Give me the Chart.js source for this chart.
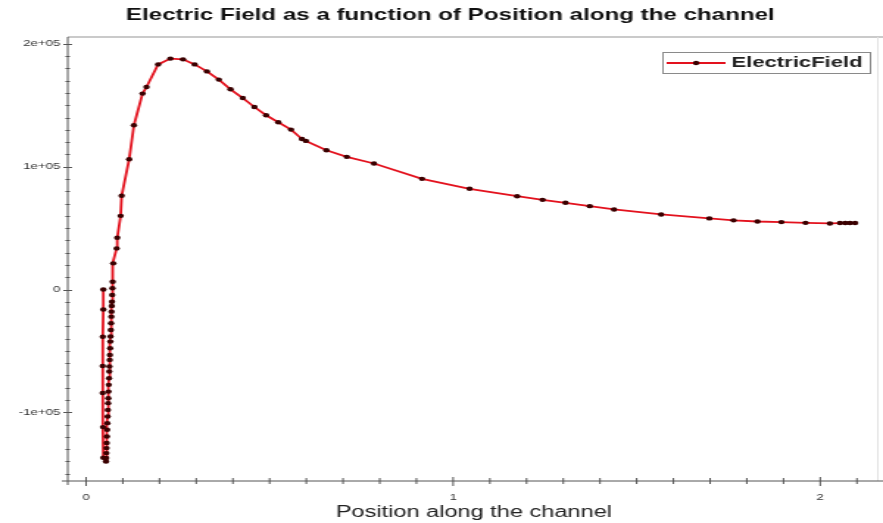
<!DOCTYPE html>
<html>
<head>
<meta charset="utf-8">
<script src="https://cdn.jsdelivr.net/npm/chart.js@4/dist/chart.umd.min.js"></script>
<style>
  html, body { margin: 0; padding: 0; background: #ffffff; overflow: hidden; }
  #plot { display: block; }
</style>
</head>
<body>
<canvas id="plot" width="600" height="523" style="width:883px;height:523px"></canvas>
<script>
// Position along the channel (x) and electric field (y), in drawing order
const positions = [
  0.0470, 0.0470, 0.0455, 0.0453, 0.0453, 0.0462, 0.0470,
  0.0543, 0.0548, 0.0552, 0.0557, 0.0562, 0.0568, 0.0575, 0.0581, 0.0588, 0.0594,
  0.0601, 0.0606, 0.0612, 0.0619, 0.0626, 0.0632, 0.0637, 0.0644, 0.0649, 0.0656,
  0.0662, 0.0667, 0.0674, 0.0681, 0.0688, 0.0693, 0.0699, 0.0704, 0.0711, 0.0718, 0.0725,
  0.0741, 0.0833, 0.0849, 0.0942, 0.0969, 0.1175, 0.1303, 0.1539, 0.1647, 0.1962,
  0.2298, 0.2640, 0.2958, 0.3292, 0.3617, 0.3935, 0.4269, 0.4586, 0.4904, 0.5237,
  0.5582, 0.5881, 0.5989, 0.6548, 0.7102, 0.7843, 0.9153, 1.0448, 1.1742, 1.2437,
  1.3061, 1.3723, 1.4383, 1.5666, 1.6980, 1.7639, 1.8290, 1.8942, 1.9601, 2.0263,
  2.0540, 2.0680, 2.0810, 2.0950
];
const electricField = [
  0, -16300, -38500, -62300, -84300, -112000, -137000,
  -140000, -137200, -133200, -129100, -125000, -119700, -114200, -108800, -103400, -98000,
  -92500, -88500, -83100, -77600, -72200, -66800, -62700, -57300, -53300, -47800,
  -42400, -38300, -32900, -27500, -22100, -18000, -13400, -9900, -4500, 1000, 6300,
  21300, 33500, 42100, 60000, 76300, 106100, 133700, 159500, 164900, 183300,
  188000, 187400, 183300, 177600, 170900, 163000, 155900, 148600, 141900, 136200,
  130200, 122600, 121000, 113400, 108000, 102600, 90100, 82000, 76000, 73000,
  70600, 67900, 65200, 61100, 57900, 56300, 55400, 54900, 54300, 53800,
  54100, 54100, 54100, 54100
];

// Axis ticks
const xMajorTicks = [0, 1, 2];
const xMinorTicks = [0.1, 0.2, 0.3, 0.4, 0.5, 0.6, 0.7, 0.8, 0.9,
                     1.1, 1.2, 1.3, 1.4, 1.5, 1.6, 1.7, 1.8, 1.9, 2.1];
const xTickLabels = ['0', '1', '2'];
const yMajorTicks = [-100000, 0, 100000, 200000];
const yMinorTicks = [-150000, -140000, -130000, -120000, -110000,
                     -90000, -80000, -70000, -60000, -50000, -40000, -30000, -20000, -10000,
                     10000, 20000, 30000, 40000, 50000, 60000, 70000, 80000, 90000,
                     110000, 120000, 130000, 140000, 150000, 160000, 170000, 180000, 190000];
const yTickLabels = ['-1e+05', '0', '1e+05', '2e+05'];

const titleText = 'Electric Field as a function of Position along the channel';
const xAxisTitle = 'Position along the channel';
const seriesName = 'ElectricField';

const LINE_RED = '#e3121e';
const MARK_DARK = '#3a0000';
const AXIS_GREY = '#555555';

// Axes, frame, labels, legend and title drawn with the chart's own scales
const decorations = {
  id: 'decorations',
  beforeDatasetsDraw(chart) {
    const ctx = chart.ctx;
    const area = chart.chartArea;
    const xs = chart.scales.x;
    const ys = chart.scales.y;
    ctx.save();

    // frame line along the top and right
    ctx.strokeStyle = '#b8b8b8';
    ctx.lineWidth = 1.5;
    ctx.beginPath();
    ctx.moveTo(area.left, area.top);
    ctx.lineTo(chart.width, area.top);
    ctx.stroke();
    ctx.strokeStyle = '#e2e2e2';
    ctx.lineWidth = 1;
    ctx.beginPath();
    ctx.moveTo(area.right + 0.5, area.top);
    ctx.lineTo(area.right + 0.5, area.bottom);
    ctx.stroke();

    // y axis
    ctx.strokeStyle = AXIS_GREY;
    ctx.lineWidth = 1;
    ctx.beginPath();
    ctx.moveTo(area.left, area.top);
    ctx.lineTo(area.left, area.bottom + 4);
    ctx.stroke();
    ctx.beginPath();
    yMinorTicks.forEach(v => {
      const p = Math.round(ys.getPixelForValue(v)) + 0.5;
      ctx.moveTo(area.left - 1.5, p);
      ctx.lineTo(area.left + 1.5, p);
    });
    yMajorTicks.forEach(v => {
      const p = Math.round(ys.getPixelForValue(v)) + 0.5;
      ctx.moveTo(area.left - 3, p);
      ctx.lineTo(area.left + 3, p);
    });
    ctx.stroke();

    // x axis
    ctx.beginPath();
    ctx.moveTo(area.left - 4, area.bottom);
    ctx.lineTo(chart.width, area.bottom);
    ctx.stroke();
    ctx.beginPath();
    xMinorTicks.forEach(v => {
      const p = xs.getPixelForValue(v);
      ctx.moveTo(p, area.bottom - 3);
      ctx.lineTo(p, area.bottom + 3);
    });
    xMajorTicks.forEach(v => {
      const p = xs.getPixelForValue(v);
      ctx.moveTo(p, area.bottom - 4);
      ctx.lineTo(p, area.bottom + 5);
    });
    ctx.stroke();

    // tick labels
    ctx.fillStyle = '#333333';
    ctx.font = '9px "Liberation Sans", Arial, sans-serif';
    ctx.textAlign = 'right';
    ctx.textBaseline = 'middle';
    yMajorTicks.forEach((v, i) => {
      ctx.fillText(yTickLabels[i], area.left - 5, ys.getPixelForValue(v));
    });
    ctx.textAlign = 'center';
    ctx.textBaseline = 'top';
    xMajorTicks.forEach((v, i) => {
      ctx.fillText(xTickLabels[i], xs.getPixelForValue(v), area.bottom + 12);
    });

    // axis title
    ctx.fillStyle = '#222222';
    ctx.font = '16px "Liberation Sans", Arial, sans-serif';
    ctx.textBaseline = 'middle';
    ctx.fillText(xAxisTitle, (area.left + area.right) / 2 + 1, area.bottom + 32);

    // chart title
    ctx.fillStyle = '#111111';
    ctx.font = 'bold 16.4px "Liberation Sans", Arial, sans-serif';
    ctx.fillText(titleText, chart.width / 2 + 6, 15);
    ctx.restore();
  },
  afterDraw(chart) {
    const ctx = chart.ctx;
    const area = chart.chartArea;
    ctx.save();
    // legend box at the top right of the plot
    const boxRight = area.right - 5;
    const boxLeft = boxRight - 141;
    const boxTop = area.top + 15;
    const boxH = 21;
    ctx.fillStyle = '#ffffff';
    ctx.fillRect(boxLeft, boxTop, boxRight - boxLeft, boxH);
    ctx.strokeStyle = '#8a8a8a';
    ctx.lineWidth = 1;
    ctx.strokeRect(boxLeft + 0.5, boxTop + 0.5, boxRight - boxLeft, boxH);
    const midY = boxTop + boxH / 2 + 0.5;
    ctx.strokeStyle = LINE_RED;
    ctx.lineWidth = 1.8;
    ctx.beginPath();
    ctx.moveTo(boxLeft + 3, midY);
    ctx.lineTo(boxLeft + 43, midY);
    ctx.stroke();
    ctx.fillStyle = MARK_DARK;
    ctx.beginPath();
    ctx.arc(boxLeft + 23, midY, 2.2, 0, Math.PI * 2);
    ctx.fill();
    ctx.fillStyle = '#222222';
    ctx.font = 'bold 15px "Liberation Sans", Arial, sans-serif';
    ctx.textAlign = 'left';
    ctx.textBaseline = 'middle';
    ctx.fillText(seriesName, boxLeft + 47, midY);
    ctx.restore();
  }
};

const points = positions.map((x, i) => ({ x: x, y: electricField[i] }));

new Chart(document.getElementById('plot'), {
  type: 'line',
  data: {
    datasets: [{
      label: seriesName,
      data: points,
      borderColor: LINE_RED,
      borderWidth: 1.8,
      pointRadius: 2.2,
      pointBackgroundColor: MARK_DARK,
      pointBorderWidth: 0,
      tension: 0,
      fill: false
    }]
  },
  options: {
    responsive: false,
    animation: false,
    devicePixelRatio: 1,
    layout: { padding: { left: 46, right: 2, top: 37, bottom: 42 } },
    plugins: {
      legend: { display: false },
      title: { display: false },
      tooltip: { enabled: false }
    },
    scales: {
      x: { type: 'linear', display: false, min: -0.05, max: 2.155 },
      y: { type: 'linear', display: false, min: -155900, max: 205600 }
    }
  },
  plugins: [decorations]
});
</script>
</body>
</html>
